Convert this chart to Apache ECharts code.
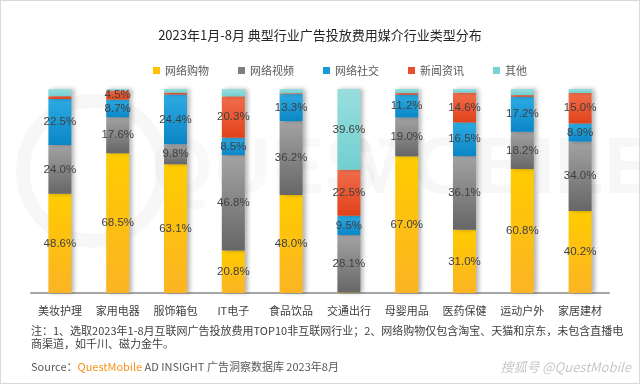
<!DOCTYPE html>
<html><head><meta charset="utf-8">
<script src="https://cdn.jsdelivr.net/npm/echarts@6/dist/echarts.min.js"></script>
<style>
html,body{margin:0;padding:0;background:#fff;}
#c{width:638px;height:382px;border:1px solid #d9d9d9;}
</style></head>
<body><div id="c"></div>
<script>
const categories = ['美妆护理','家用电器','服饰箱包','IT电子','食品饮品','交通出行','母婴用品','医药保健','运动户外','家居建材'];
const seriesNames = ['网络购物','网络视频','网络社交','新闻资讯','其他'];
const shopping = [48.6, 68.5, 63.1, 20.8, 48.0, 0.3, 67.0, 31.0, 60.8, 40.2];
const video    = [24.0, 17.6, 9.8, 46.8, 36.2, 28.1, 19.0, 36.1, 18.2, 34.0];
const social   = [22.5, 8.7, 24.4, 8.5, 13.3, 9.5, 11.2, 16.5, 17.2, 8.9];
const news     = [1.4, 4.5, 0.9, 20.3, 0.4, 22.5, 0.8, 14.6, 0.8, 15.0];
const other    = [3.5, 0.7, 1.8, 3.6, 2.1, 39.6, 2.0, 1.8, 3.0, 1.9];
const values = [shopping, video, social, news, other];

const FONT = '"Noto Sans CJK SC", "Noto Sans", sans-serif';
const grads = [
  ['#FFCC00','#FBB424'],
  ['#A3A3A3','#666666'],
  ['#2DABE2','#0A86C6'],
  ['#F16D4C','#E0421A'],
  ['#98DEDE','#72CFCF']
];
const legendColors = ['#FFC000','#7F7F7F','#1A9AD6','#E9502A','#7BD2D2'];

const chart = echarts.init(document.getElementById('c'));
const series = seriesNames.map((name, i) => ({
  name: name,
  type: 'bar',
  stack: 'total',
  barWidth: 23,
  data: values[i],
  color: legendColors[i],
  itemStyle: {
    color: new echarts.graphic.LinearGradient(0,0,0,1,[{offset:0,color:grads[i][0]},{offset:1,color:grads[i][1]}]),
    shadowColor: 'rgba(0,0,0,0.28)',
    shadowBlur: 4,
    shadowOffsetX: 3,
    shadowOffsetY: 0
  },
  label: {
    show: true,
    position: 'inside',
    color: '#404040',
    fontSize: 11.5,
    fontFamily: 'Arial, "Liberation Sans", sans-serif',
    formatter: p => p.value >= 4 ? p.value.toFixed(1) + '%' : ''
  }
}));

chart.setOption({
  animation: false,
  backgroundColor: '#fff',
  title: {
    text: '2023年1月-8月 典型行业广告投放费用媒介行业类型分布',
    left: 'center', top: 23,
    textStyle: {fontSize: 13, fontWeight: 'normal', color: '#262626', fontFamily: FONT}
  },
  legend: {
    data: seriesNames.map((n,i)=>({name:n, itemStyle:{color:legendColors[i]}})),
    left: 147, top: 59,
    icon: 'rect', itemWidth: 7, itemHeight: 7, itemGap: 29,
    textStyle: {fontSize: 11, color: '#595959', fontFamily: FONT}
  },
  grid: {left: 30, right: 30, top: 88, bottom: 90},
  xAxis: {
    type: 'category', data: categories,
    axisLine: {lineStyle: {color: '#A6A6A6', width: 2}},
    axisTick: {show: false},
    axisLabel: {color: '#404040', fontSize: 11, margin: 12, fontFamily: FONT}
  },
  yAxis: {type: 'value', min: 0, max: 100, show: false},
  series: series,
  graphic: [
    {type:'text', left: 345, top: 130, silent: true, z: -1,
      style:{text:'MOBILE', fontSize: 80, fontWeight: 'bold', fill:'rgba(0,0,0,0.03)', fontFamily:'Arial'}},
    {type:'text', left: 150, top: 130, silent: true, z: -1,
      style:{text:'QUEST', fontSize: 80, fontWeight: 'bold', fill:'rgba(0,0,0,0.025)', fontFamily:'Arial'}},
    {type:'circle', shape:{cx: 92, cy: 170, r: 70}, silent: true, z: -1,
      style:{fill:'none', stroke:'rgba(0,0,0,0.03)', lineWidth: 14}},
    {type:'text', left: 30, top: 323, silent: true,
      style:{text:'注：1、选取2023年1-8月互联网广告投放费用TOP10非互联网行业；2、网络购物仅包含淘宝、天猫和京东，未包含直播电\n商渠道，如千川、磁力金牛。',
        fontSize: 11, lineHeight: 13, fill:'#404040', fontFamily: FONT}},
    {type:'text', left: 30, top: 360, silent: true,
      style:{text:'{a|Source：}{b|QuestMobile}{a| AD INSIGHT 广告洞察数据库 2023年8月}',
        rich:{a:{fontSize:11, fill:'#595959', fontFamily: FONT}, b:{fontSize:11, fill:'#F7941D', fontFamily: FONT}}}},
    {type:'text', right: 8, top: 360, silent: true,
      style:{text:'搜狐号 @QuestMobile', fontSize: 13, fill:'#c8c8c8', fontStyle:'italic', fontFamily: FONT}}
  ]
});
</script></body></html>
